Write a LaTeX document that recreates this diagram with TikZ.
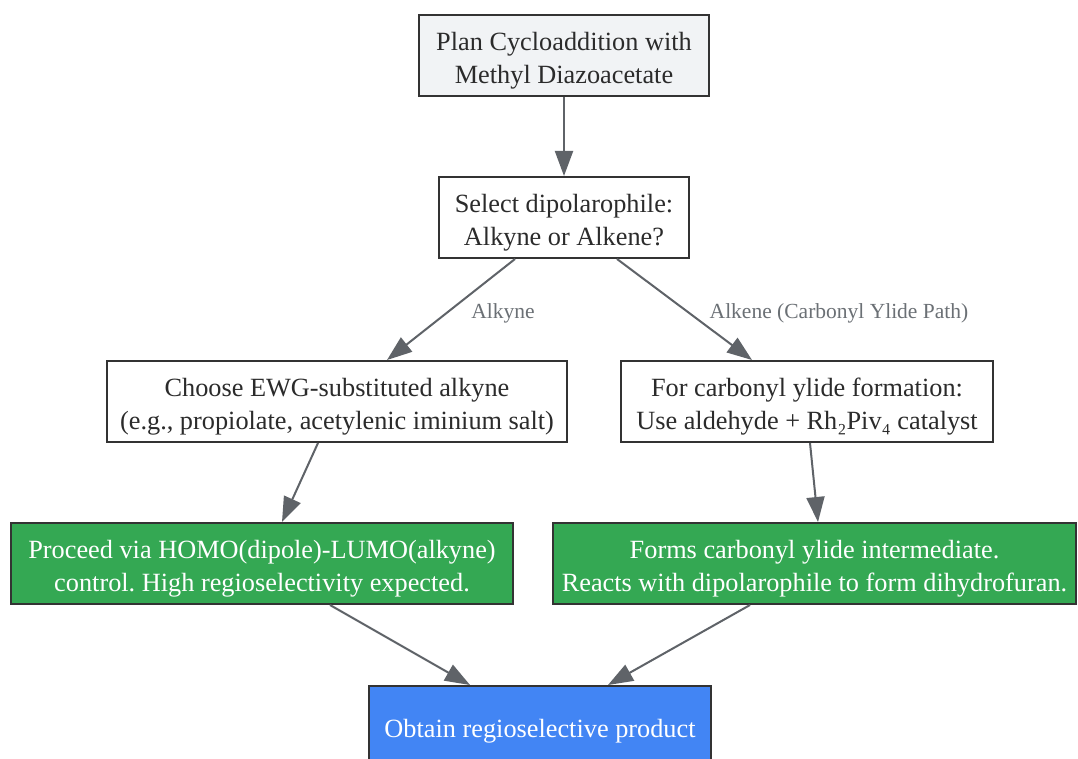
\documentclass[tikz,border=0pt]{standalone}
\usepackage{fontspec}
\setmainfont{Liberation Serif}
\usetikzlibrary{arrows.meta}
\frenchspacing
\definecolor{bordc}{HTML}{333333}
\definecolor{arrc}{HTML}{5F6368}
\definecolor{labc}{HTML}{6B7075}
\definecolor{topfill}{HTML}{F1F3F5}
\definecolor{gfill}{HTML}{34A853}
\definecolor{bfill}{HTML}{4285F4}
\definecolor{txtc}{HTML}{2B2B2B}
\newcommand{\padtop}[1]{\raisebox{0pt}[\dimexpr\height+10pt\relax][\depth]{#1}}
\newcommand{\twolines}[2]{\padtop{\begin{tabular}{@{}c@{}}#1\\#2\end{tabular}}}
\tikzset{
  box/.style={draw=bordc, line width=2pt, fill=white, text=txtc,
    minimum height=81pt, inner sep=0pt, font=\fontsize{26.3}{33}\selectfont\frenchspacing},
  greenbox/.style={box, fill=gfill, text=white},
  bluebox/.style={box, fill=bfill, text=white},
  conn/.style={draw=arrc, line width=2pt, -{Triangle[length=25pt,width=18pt]}},
  elabel/.style={text=labc, font=\fontsize{21.5}{26}\selectfont, inner sep=0pt}
}
\begin{document}
\begin{tikzpicture}[x=1pt,y=-1pt]
\useasboundingbox[fill=white] (0,0) rectangle (1078,759);
\node[box, fill=topfill, minimum width=290pt] (top) at (564,55.5) {\twolines{Plan Cycloaddition with}{Methyl Diazoacetate}};
\node[box, minimum width=250pt] (sel) at (564,217.5) {\twolines{Select dipolarophile:}{Alkyne or Alkene?}};
\node[box, minimum width=460pt] (ewg) at (337,401.5) {\twolines{Choose EWG-substituted alkyne}{(e.g., propiolate, acetylenic iminium salt)}};
\node[box, minimum width=372pt] (rh) at (807,401.5) {\twolines{For carbonyl ylide formation:}{Use aldehyde + Rh₂Piv₄ catalyst}};
\node[greenbox, minimum width=502pt] (gl) at (262,563.5) {\twolines{Proceed via HOMO(dipole)-LUMO(alkyne)}{control. High regioselectivity expected.}};
\node[greenbox, minimum width=523pt] (gr) at (814.5,563.5) {\twolines{Forms carbonyl ylide intermediate.}{Reacts with dipolarophile to form dihydrofuran.}};
\node[bluebox, minimum width=342pt] (bot) at (540,726.5) {\padtop{Obtain regioselective product}};
\draw[conn] (top.south) -- (sel.north);
\draw[conn] ([xshift=-49pt]sel.south) -- ([xshift=50pt]ewg.north);
\draw[conn] ([xshift=53pt]sel.south) -- ([xshift=-55pt]rh.north);
\draw[conn] ([xshift=-19pt]ewg.south) -- ([xshift=20pt]gl.north);
\draw[conn] ([xshift=3pt]rh.south) -- ([xshift=3.5pt]gr.north);
\draw[conn] ([xshift=68pt]gl.south) -- ([xshift=-70pt]bot.north);
\draw[conn] ([xshift=-64.5pt]gr.south) -- ([xshift=68pt]bot.north);
\node[elabel] (l1) at (503,313) {Alkyne};
\node[elabel] (l2) at (839,313) {Alkene (Carbonyl Ylide Path)};
\end{tikzpicture}
\end{document}
